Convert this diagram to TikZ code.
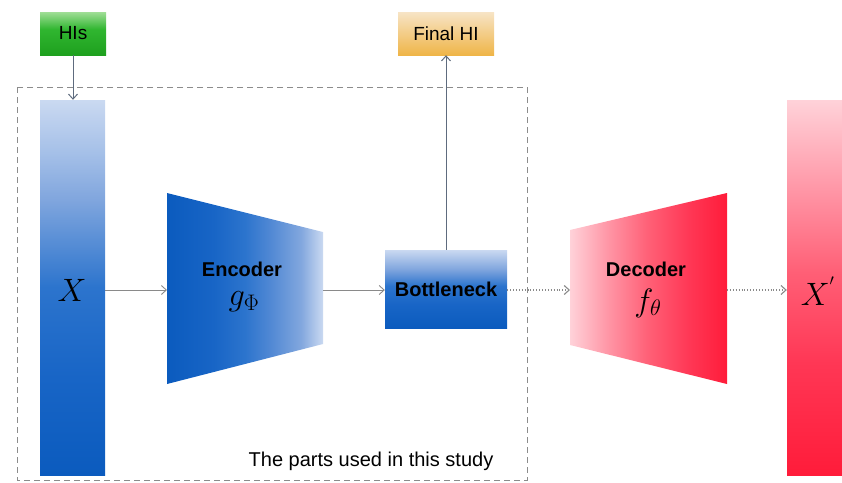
\documentclass[tikz,border=0pt]{standalone}
\usepackage{fontspec}
\setmainfont{Liberation Sans}
\usetikzlibrary{arrows.meta}
\definecolor{arrowgray}{HTML}{8A8A8A}
\definecolor{slate}{HTML}{5E6B7E}
\definecolor{boxdash}{HTML}{8C8C8C}
% blue ramp, dark to light
\definecolor{bA}{RGB}{11,91,190}
\definecolor{bB}{RGB}{24,101,198}
\definecolor{bC}{RGB}{44,116,205}
\definecolor{bD}{RGB}{80,136,212}
\definecolor{bF}{RGB}{130,167,222}
\definecolor{bG}{RGB}{165,192,232}
\definecolor{bE}{RGB}{202,217,241}
% red ramp, deep to light
\definecolor{rA}{RGB}{255,28,58}
\definecolor{rB}{RGB}{255,55,85}
\definecolor{rC}{RGB}{255,95,118}
\definecolor{rD}{RGB}{255,150,166}
\definecolor{rE}{RGB}{255,210,217}
% green and orange tags
\definecolor{gTop}{RGB}{160,222,150}
\definecolor{gMid}{RGB}{48,182,48}
\definecolor{gBot}{RGB}{30,160,30}
\definecolor{oTop}{RGB}{247,228,198}
\definecolor{oBot}{RGB}{239,181,72}
\pgfdeclareverticalshading{inbar}{100bp}{color(0bp)=(bA); color(25bp)=(bA); color(38bp)=(bB); color(50bp)=(bC); color(62bp)=(bF); color(68bp)=(bG); color(75bp)=(bE); color(100bp)=(bE)}
\pgfdeclarehorizontalshading{encfade}{100bp}{color(0bp)=(bA); color(25bp)=(bA); color(40bp)=(bB); color(50bp)=(bC); color(58bp)=(bD); color(68bp)=(bF); color(75bp)=(bE); color(100bp)=(bE)}
\pgfdeclareverticalshading{neckfade}{100bp}{color(0bp)=(bA); color(25bp)=(bA); color(40bp)=(bB); color(52bp)=(bC); color(63bp)=(bF); color(75bp)=(bE); color(100bp)=(bE)}
\pgfdeclarehorizontalshading{decfade}{100bp}{color(0bp)=(rE); color(25bp)=(rE); color(37bp)=(rD); color(50bp)=(rC); color(63bp)=(rB); color(75bp)=(rA); color(100bp)=(rA)}
\pgfdeclareverticalshading{outbar}{100bp}{color(0bp)=(rA); color(25bp)=(rA); color(40bp)=(rB); color(52bp)=(rC); color(63bp)=(rD); color(75bp)=(rE); color(100bp)=(rE)}
\pgfdeclareverticalshading{greentag}{100bp}{color(0bp)=(gBot); color(25bp)=(gBot); color(55bp)=(gMid); color(75bp)=(gTop); color(100bp)=(gTop)}
\tikzset{
  flow/.style={draw=arrowgray, line width=0.9pt, -{Straight Barb[length=5pt,width=9pt]}},
  dotflow/.style={flow, dotted, line width=1.1pt},
  upflow/.style={draw=slate, line width=1pt, -{Straight Barb[length=5pt,width=9pt]}},
  tag/.style={inner sep=0pt, minimum width=66pt, minimum height=43pt, font=\fontsize{19}{22}\selectfont},
  bar/.style={inner sep=0pt, minimum width=65pt, minimum height=375pt},
  heading/.style={font=\fontsize{20}{24}\selectfont\bfseries},
  mathlbl/.style={font=\fontsize{24}{28}\selectfont},
}
\begin{document}
\begin{tikzpicture}[x=1pt,y=-1pt]
\useasboundingbox (0,0) rectangle (842,482);
% region of the model used in the study
\draw[boxdash, dash pattern=on 6pt off 4pt, line width=0.8pt] (17,87) rectangle (527,480);
\node[font=\fontsize{20}{24}\selectfont] (note) at (371,461) {The parts used in this study};

% input and output bars
\node[bar, shading=inbar] (xin) at (72.5,287.5) {};
\node[mathlbl] at (72,290) {\scalebox{1.3}{$X$}};
\node[bar, minimum width=56pt, shading=outbar] (xout) at (815,287.5) {};
\node[mathlbl] at (818,291) {\scalebox{1.3}{$X^{'}$}};

% encoder
\shade[shading=encfade] (167,193) -- (323,232) -- (323,344) -- (167,384) -- cycle;
\coordinate (enc-w) at (167,290);
\coordinate (enc-e) at (323,290);
\node[heading] (enctitle) at (242,269) {Encoder};
\node[mathlbl] (encfn) at (244,302) {\scalebox{1.3}{$g_{\Phi}$}};

% bottleneck
\node[inner sep=0pt, minimum width=122pt, minimum height=78pt, shading=neckfade, heading] (bneck) at (446,289) {Bottleneck};

% decoder
\shade[shading=decfade] (570,230) -- (727,193) -- (727,384) -- (570,345) -- cycle;
\coordinate (dec-w) at (570,290);
\coordinate (dec-e) at (727,290);
\node[heading] (dectitle) at (646,269) {Decoder};
\node[mathlbl] (decfn) at (648,303) {\scalebox{1.3}{$f_{\theta}$}};

% health indicator boxes
\node[tag, shading=greentag] (his) at (73,33.5) {HIs};
\node[tag, minimum width=96pt, top color=oTop, bottom color=oBot] (final) at (446,33.5) {Final HI};

% connectors
\draw[upflow] (his.south) -- (his.south |- xin.north);
\draw[upflow] (bneck.north) -- (final.south);
\draw[flow] (xin.east |- enc-w) -- (enc-w);
\draw[flow] (enc-e) -- (bneck.west |- enc-e);
\draw[dotflow] (bneck.east |- dec-w) -- (dec-w);
\draw[dotflow] (dec-e) -- (xout.west |- dec-e);
\end{tikzpicture}
\end{document}
